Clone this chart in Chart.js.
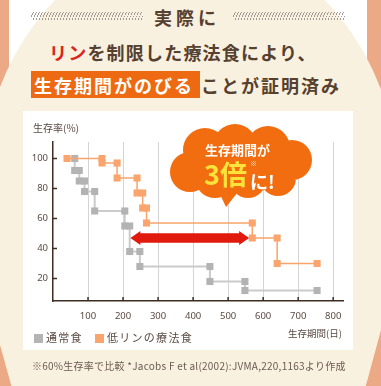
<!DOCTYPE html>
<html><head><meta charset="utf-8">
<script src="https://cdn.jsdelivr.net/npm/chart.js@4"></script>
<style>
html,body{margin:0;padding:0;}
body{width:381px;height:386px;position:relative;overflow:hidden;background:#eba986;font-family:'Noto Sans CJK JP','Noto Sans',sans-serif;}
.abs{position:absolute;}
#topwhite{left:9px;top:0;width:358px;height:90px;background:#fff;}
#cream{left:-21px;top:-60px;width:422px;height:520px;border-radius:50%;background:#f9f1df;}
#creamLow{left:0;top:200px;width:381px;height:186px;background:#f9f1df;clip-path:polygon(0 0,100% 0,100% 130px,96% 100%,3% 100%,0 145px);}
#panel{left:23px;top:111px;width:330px;height:239px;background:#fff;}
.hatch{top:12px;height:8px;background:repeating-linear-gradient(115deg,transparent 0 1.9px,#a39893 1.9px 2.72px);}
.t{white-space:nowrap;color:#56402f;font-weight:bold;}
#c{position:absolute;left:0;top:0;}
.lab{white-space:nowrap;color:#5a4a42;}
.sw{display:inline-block;width:9px;height:9px;margin-right:3px;vertical-align:-1px;}
.bub{white-space:nowrap;font-weight:bold;color:#fff;}
</style></head>
<body>
<div id="topwhite" class="abs"></div>
<div id="cream" class="abs"></div>
<div id="creamLow" class="abs"></div>
<div id="panel" class="abs"></div>
<div class="abs hatch" style="left:31px;width:112px;"></div>
<div class="abs hatch" style="left:233px;width:112px;"></div>
<div class="abs t" style="left:154px;top:7px;font-size:18px;line-height:20px;letter-spacing:4px;">実際に</div>
<div class="abs t" style="left:49px;top:42px;font-size:18px;line-height:20px;letter-spacing:1.2px;"><span style="color:#d9261c">リン</span>を制限した療法食により、</div>
<div class="abs" style="left:31px;top:71px;width:169px;height:27px;background:#ee6a12;"></div>
<div class="abs t" style="left:34px;top:75px;font-size:18px;line-height:20px;letter-spacing:2px;"><span style="color:#fff">生存期間がのびる</span><span style="margin-left:7px">ことが証明済み</span></div>

<canvas id="c" width="381" height="386"></canvas>

<div class="abs lab" style="left:33px;top:122px;font-size:10px;line-height:12px;">生存率(%)</div>
<div class="abs lab" style="right:39px;top:327px;font-size:9.5px;line-height:12px;">生存期間(日)</div>
<div class="abs lab" style="left:34px;top:331px;font-size:11px;line-height:12px;letter-spacing:1.3px;"><span class="sw" style="background:#b4b4b4"></span>通常食<span class="sw" style="margin-left:12px;background:#fba56e"></span>低リンの療法食</div>
<div class="abs lab" style="left:32px;top:360px;font-size:10px;line-height:12px;letter-spacing:0.25px;color:#6a5a52;">※60%生存率で比較 *Jacobs F et al(2002):JVMA,220,1163より作成</div>

<div class="abs bub" style="left:205px;top:143px;font-size:13px;line-height:14px;">生存期間が</div>
<div class="abs bub" style="left:204px;top:160px;font-size:27px;line-height:28px;color:#ffe23a;">3倍</div>
<div class="abs bub" style="left:250px;top:159px;font-size:7px;line-height:8px;font-weight:normal;">※</div>
<div class="abs bub" style="left:250px;top:171px;font-size:18px;line-height:20px;">に!</div>

<script>
// ---- data ----
const seriesNames = ['通常食', '低リンの療法食'];
const normalDays     = [62, 62, 75, 75, 90, 90, 119, 119, 205, 205, 219, 219, 248, 248, 448, 448, 548, 548, 754];
const normalSurvival = [100, 92, 92, 85, 85, 78, 78, 65, 65, 55, 55, 38, 38, 28, 28, 18, 18, 12, 12];
const lowPDays       = [40, 140, 140, 183, 183, 240, 240, 256, 256, 267, 267, 569, 569, 640, 640, 754];
const lowPSurvival   = [100, 100, 97, 97, 87, 87, 77, 77, 67, 67, 57, 57, 47, 47, 30, 30];
const xTickValues = [100, 200, 300, 400, 500, 600, 700, 800];
const yTickValues = [20, 40, 60, 80, 100];
const arrowFrom = 221, arrowTo = 560, arrowLevel = 47;

const ink = '#3d2c22';
const labelColor = '#5a4a42';

const inTicks = {
  id: 'inTicks',
  afterDraw(chart) {
    const {ctx, chartArea: a, scales: {x, y}} = chart;
    ctx.save();
    ctx.strokeStyle = ink; ctx.lineWidth = 1.5;
    ctx.beginPath();
    yTickValues.forEach(v => { const p = y.getPixelForValue(v); ctx.moveTo(a.left, p); ctx.lineTo(a.left + 4, p); });
    xTickValues.forEach(v => { const p = x.getPixelForValue(v); ctx.moveTo(p, a.bottom); ctx.lineTo(p, a.bottom - 4); });
    ctx.stroke();
    ctx.restore();
  }
};

const arrow = {
  id: 'arrow',
  afterDatasetsDraw(chart) {
    const {ctx, scales: {x, y}} = chart;
    const x1 = x.getPixelForValue(arrowFrom), x2 = x.getPixelForValue(arrowTo), yy = y.getPixelForValue(arrowLevel);
    const hl = 10, hh = 7, sh = 4.8;
    ctx.save();
    ctx.fillStyle = '#e01a0c';
    ctx.beginPath();
    ctx.moveTo(x1, yy);
    ctx.lineTo(x1 + hl, yy - hh);
    ctx.lineTo(x1 + hl, yy - sh);
    ctx.lineTo(x2 - hl, yy - sh);
    ctx.lineTo(x2 - hl, yy - hh);
    ctx.lineTo(x2, yy);
    ctx.lineTo(x2 - hl, yy + hh);
    ctx.lineTo(x2 - hl, yy + sh);
    ctx.lineTo(x1 + hl, yy + sh);
    ctx.lineTo(x1 + hl, yy + hh);
    ctx.closePath();
    ctx.fill();
    ctx.restore();
  }
};

const bubble = {
  id: 'bubble',
  afterDraw(chart) {
    const ctx = chart.ctx;
    ctx.save();
    ctx.fillStyle = '#f26d0f';
    const circles = [[205,150,22],[235,146,22],[268,148,22],[292,160,20],[190,172,20],[215,178,20],[248,180,18],[278,178,18]];
    ctx.beginPath();
    circles.forEach(([cx, cy, r]) => { ctx.moveTo(cx + r, cy); ctx.arc(cx, cy, r, 0, Math.PI * 2); });
    ctx.fill();
    ctx.beginPath();
    ctx.ellipse(240, 165, 55, 28, 0, 0, Math.PI * 2);
    ctx.fill();
    ctx.beginPath();
    ctx.moveTo(218, 190); ctx.lineTo(238, 192); ctx.lineTo(226, 207); ctx.closePath();
    ctx.fill();
    ctx.restore();
  }
};

const pts = (xs, ys) => xs.map((d, i) => ({x: d, y: ys[i]}));

new Chart(document.getElementById('c'), {
  type: 'line',
  data: {
    datasets: [
      {label: seriesNames[1], data: pts(lowPDays, lowPSurvival), borderColor: '#f8a46a', borderWidth: 1.5,
       pointStyle: 'rect', pointRadius: 5, pointBackgroundColor: '#fba56e', pointBorderWidth: 0, tension: 0},
      {label: seriesNames[0], data: pts(normalDays, normalSurvival), borderColor: '#cbcbcb', borderWidth: 2,
       pointStyle: 'rect', pointRadius: 5, pointBackgroundColor: '#b3b3b3', pointBorderWidth: 0, tension: 0}
    ]
  },
  options: {
    responsive: false, animation: false, devicePixelRatio: 1,
    layout: {padding: {left: 0, top: 142, right: 38, bottom: 55}},
    plugins: {legend: {display: false}, tooltip: {enabled: false}},
    scales: {
      x: {
        type: 'linear', min: 0, max: 828,
        afterBuildTicks: s => { s.ticks = xTickValues.map(v => ({value: v})); },
        afterFit: s => { s.height = 30; },
        grid: {color: '#d4d4d4', lineWidth: 1, drawTicks: false},
        border: {display: true, color: ink, width: 1.5},
        ticks: {padding: 10, color: labelColor, font: {size: 9.5, family: "'Noto Sans'"}, maxRotation: 0}
      },
      y: {
        type: 'linear', min: 5, max: 111,
        afterBuildTicks: s => { s.ticks = yTickValues.map(v => ({value: v})); },
        afterFit: s => { s.width = 53; },
        grid: {display: false, drawTicks: false},
        border: {display: true, color: ink, width: 1.5},
        ticks: {padding: 5, color: labelColor, font: {size: 9.5, family: "'Noto Sans'"}}
      }
    }
  },
  plugins: [inTicks, arrow, bubble]
});
</script>
</body></html>
